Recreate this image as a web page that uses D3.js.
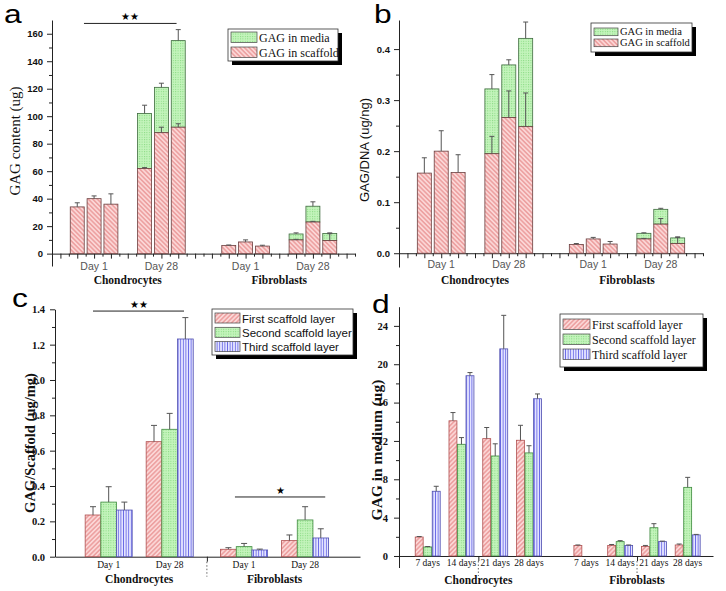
<!DOCTYPE html>
<html>
<head>
<meta charset="utf-8">
<script src="https://cdn.jsdelivr.net/npm/d3@7"></script>
<style>
  body { margin: 0; background: #fff; }
</style>
</head>
<body>
<script>
// ---- panel a : GAG content (ug)
var aPos = [1, 2, 3, 5, 6, 7, 10, 11, 12, 14, 15, 16];
var aScaffold = [34, 40, 36, 62, 88, 92, 6, 8.5, 5.5, 10, 23, 9.5];
var aScaffoldErr = [3, 2, 7.5, 0.6, 4, 2.5, 0.3, 1.5, 0.6, 0.4, 0.5, 5];
var aTotal = [null, null, null, 102, 121, 155, null, null, null, 14.3, 34.5, 14.6];
var aTotalErr = [0, 0, 0, 6, 3, 8, 0, 0, 0, 0.8, 3.2, 0.5];

// ---- panel b : GAG/DNA (ug/ng)
var bScaffold = [0.157, 0.200, 0.158, 0.195, 0.266, 0.248, 0.017, 0.028, 0.018, 0.028, 0.057, 0.019];
var bScaffoldErr = [0.030, 0.040, 0.035, 0.034, 0.052, 0.066, 0.002, 0.003, 0.005, 0.001, 0.011, 0.012];
var bTotal = [null, null, null, 0.322, 0.369, 0.421, null, null, null, 0.039, 0.086, 0.030];
var bTotalErr = [0, 0, 0, 0.028, 0.010, 0.032, 0, 0, 0, 0.001, 0.002, 0.002];

// shared labels for a / b
var dayPosAB = [2, 6, 11, 15];
var dayLabels = ["Day 1", "Day 28", "Day 1", "Day 28"];
var cellLabels = ["Chondrocytes", "Fibroblasts"];
var cellPosAB = [4, 13];
var stackLegend = ["GAG in media", "GAG in scaffold"];

// ---- panel c : GAG/Scaffold (ug/mg)
var cPos = [0.88, 1.88, 3.1, 4.1];
var cFirst = [0.236, 0.651, 0.042, 0.091];
var cFirstErr = [0.047, 0.092, 0.009, 0.032];
var cSecond = [0.309, 0.721, 0.057, 0.208];
var cSecondErr = [0.087, 0.090, 0.018, 0.075];
var cThird = [0.264, 1.232, 0.038, 0.106];
var cThirdErr = [0.045, 0.121, 0.005, 0.052];
var cCellPos = [1.38, 3.6];

// ---- panel d : GAG in medium (ug)
var dDays = ["7 days", "14 days", "21 days", "28 days", "7 days", "14 days", "21 days", "28 days"];
var dPos = [1, 2, 3, 4, 5.7, 6.7, 7.7, 8.7];
var dFirst = [1.98, 14.1, 12.24, 12.07, 1.1, 1.1, 1.0, 1.15];
var dFirstErr = [0.05, 0.86, 1.16, 1.56, 0.05, 0.1, 0.1, 0.1];
var dSecond = [0.94, 11.65, 10.43, 10.75, 0, 1.5, 2.95, 7.16];
var dSecondErr = [0.05, 0.7, 1.27, 0.75, 0, 0.1, 0.42, 1.04];
var dThird = [6.75, 18.8, 21.6, 16.4, 0, 1.1, 1.5, 2.2];
var dThirdErr = [0.52, 0.33, 3.5, 0.5, 0, 0.05, 0.05, 0.05];
var dCellPos = [2.5, 7.2];
var layerLegend = ["First scaffold layer", "Second scaffold layer", "Third scaffold layer"];

var serif = "'Liberation Serif', 'Times New Roman', serif";
var sans = "'Liberation Sans', Arial, sans-serif";

var svg = d3.select("body").append("svg")
    .attr("width", 726)
    .attr("height", 591);

// fill patterns
var defs = svg.append("defs");
function linePattern(id, bg, fg, angle, gap) {
    var p = defs.append("pattern")
        .attr("id", id)
        .attr("patternUnits", "userSpaceOnUse")
        .attr("width", gap).attr("height", gap)
        .attr("patternTransform", "rotate(" + angle + ")");
    p.append("rect").attr("width", gap).attr("height", gap).attr("fill", bg);
    p.append("line").attr("x1", gap / 2).attr("x2", gap / 2).attr("y1", 0).attr("y2", gap)
        .attr("stroke", fg).attr("stroke-width", 0.9);
}
linePattern("redBack", "#fbd6d6", "#e27a7a", -45, 3.2);
linePattern("redFwd", "#fbd6d6", "#e27a7a", 45, 3.2);
linePattern("blueV", "#e4e4ff", "#6b6be6", 0, 2.6);
var gp = defs.append("pattern").attr("id", "greenDot")
    .attr("patternUnits", "userSpaceOnUse").attr("width", 2.4).attr("height", 2.4);
gp.append("rect").attr("width", 2.4).attr("height", 2.4).attr("fill", "#c4f4bc");
gp.append("rect").attr("width", 1).attr("height", 1).attr("fill", "#86d880");

function errBar(g, x, y0, y1, cap) {
    g.append("line").attr("x1", x).attr("x2", x).attr("y1", y0).attr("y2", y1)
        .attr("stroke", "#555").attr("stroke-width", 1);
    g.append("line").attr("x1", x - cap / 2).attr("x2", x + cap / 2).attr("y1", y1).attr("y2", y1)
        .attr("stroke", "#555").attr("stroke-width", 1);
}

function yAxis(g, y, x0, major, minor, fmt, font, size, pad) {
    var ax = g.append("g").attr("transform", "translate(" + x0 + ",0)")
        .call(d3.axisLeft(y).tickValues(major).tickSize(5).tickSizeOuter(0).tickPadding(pad).tickFormat(fmt));
    ax.selectAll("text").style("font-family", font).style("font-size", size + "px")
        .style("font-weight", "bold").attr("fill", "#111");
    ax.selectAll("path,line").attr("stroke", "#222");
    if (minor) {
        var mn = g.append("g").attr("transform", "translate(" + x0 + ",0)")
            .call(d3.axisLeft(y).tickValues(minor).tickSize(3).tickFormat(""));
        mn.select(".domain").remove();
        mn.selectAll("line").attr("stroke", "#222");
    }
}

// legend box with a black drop shadow
function legend(g, o) {
    g.append("rect").attr("x", o.x + 4).attr("y", o.y + 4).attr("width", o.w).attr("height", o.h).attr("fill", "#000");
    g.append("rect").attr("x", o.x).attr("y", o.y).attr("width", o.w).attr("height", o.h)
        .attr("fill", "#fff").attr("stroke", "#333").attr("stroke-width", 0.8);
    o.labels.forEach(function (t, i) {
        var ry = o.y + o.pad + i * o.rowH;
        var sh = o.rowH * 0.7;
        g.append("rect").attr("x", o.x + 3).attr("y", ry).attr("width", o.sw).attr("height", sh)
            .attr("fill", "url(#" + o.fills[i] + ")").attr("stroke", "#444").attr("stroke-width", 0.7);
        g.append("text").attr("x", o.x + o.sw + 5).attr("y", ry + sh - 0.5)
            .style("font-family", o.font).style("font-size", o.size + "px").attr("fill", "#111").text(t);
    });
}

function panelLetter(x, y, t) {
    svg.append("text").attr("transform", "translate(" + x + "," + y + ") scale(1.22,1)")
        .style("font-family", sans).style("font-size", "26px").attr("fill", "#000").text(t);
}

function sigLine(g, x, y, x1, x2, v, stars) {
    g.append("line").attr("x1", x(x1)).attr("x2", x(x2)).attr("y1", y(v)).attr("y2", y(v))
        .attr("stroke", "#222").attr("stroke-width", 1);
    g.append("text").attr("x", (x(x1) + x(x2)) / 2).attr("y", y(v) - 3)
        .attr("text-anchor", "middle").style("font-size", "10px").style("font-family", sans)
        .attr("fill", "#000").text(stars);
}

// ---------- stacked panels (a, b)
function stackedPanel(opts) {
    var g = svg.append("g");
    var x = d3.scaleLinear().domain([-0.5, 17.5]).range(opts.xr);
    var y = d3.scaleLinear().domain(opts.yd).range(opts.yr);
    var bw = x(0.83) - x(0);

    yAxis(g, y, opts.xr[0], opts.major, opts.minor, opts.fmt, sans, 9.5, 4);

    var xa = g.append("g").attr("transform", "translate(0," + y(0) + ")")
        .call(d3.axisBottom(x).tickValues(d3.range(0, 18, 1)).tickSize(5).tickSizeOuter(0).tickFormat(""));
    xa.selectAll("path,line").attr("stroke", "#222");
    var xm = g.append("g").attr("transform", "translate(0," + y(0) + ")")
        .call(d3.axisBottom(x).tickValues(d3.range(-0.5, 18, 1)).tickSize(3).tickFormat(""));
    xm.select(".domain").remove();
    xm.selectAll("line").attr("stroke", "#222");

    aPos.forEach(function (p, i) {
        var cx = x(p);
        if (opts.total[i] != null) {
            g.append("rect").attr("x", cx - bw / 2).attr("width", bw)
                .attr("y", y(opts.total[i])).attr("height", y(opts.scaffold[i]) - y(opts.total[i]))
                .attr("fill", "url(#greenDot)").attr("stroke", "#3f6b3f").attr("stroke-width", 0.8);
        }
        g.append("rect").attr("x", cx - bw / 2).attr("width", bw)
            .attr("y", y(opts.scaffold[i])).attr("height", y(0) - y(opts.scaffold[i]))
            .attr("fill", "url(#redBack)").attr("stroke", "#6b3f3f").attr("stroke-width", 0.8);
    });
    aPos.forEach(function (p, i) {
        var cx = x(p);
        if (opts.total[i] != null) {
            errBar(g, cx, y(opts.total[i]), y(opts.total[i] + opts.totalErr[i]), 5);
        }
        errBar(g, cx, y(opts.scaffold[i]), y(opts.scaffold[i] + opts.scaffoldErr[i]), 5);
    });

    dayPosAB.forEach(function (p, i) {
        g.append("text").attr("x", x(p)).attr("y", opts.dayY).attr("text-anchor", "middle")
            .style("font-family", sans).style("font-size", "10.5px").attr("fill", "#555").text(dayLabels[i]);
    });
    cellPosAB.forEach(function (p, i) {
        g.append("text").attr("x", x(p)).attr("y", opts.cellY).attr("text-anchor", "middle")
            .style("font-family", serif).style("font-size", "11.5px").style("font-weight", "bold")
            .attr("fill", "#111").text(cellLabels[i]);
    });

    g.append("text").attr("transform", "translate(" + opts.labX + "," + opts.labY + ") rotate(-90)")
        .attr("text-anchor", "middle").style("font-family", opts.labFont)
        .style("font-size", opts.labSize + "px").attr("fill", "#111").text(opts.label);

    return { g: g, x: x, y: y };
}

var pa = stackedPanel({
    xr: [52, 355], yd: [-9, 170], yr: [266, 20],
    major: d3.range(0, 161, 20), minor: d3.range(10, 160, 20), fmt: d3.format("d"),
    scaffold: aScaffold, scaffoldErr: aScaffoldErr, total: aTotal, totalErr: aTotalErr,
    dayY: 270, cellY: 284, labX: 20, labY: 141, label: "GAG content (ug)", labFont: serif, labSize: 15
});
sigLine(pa.g, pa.x, pa.y, 1.4, 6.9, 167.5, "\u2605\u2605");
legend(pa.g, { x: 228, y: 29, w: 110, h: 32, labels: stackLegend, fills: ["greenDot", "redBack"],
    font: serif, size: 12, rowH: 15, sw: 26, pad: 3 });
panelLetter(4, 23, "a");

var pb = stackedPanel({
    xr: [399, 703], yd: [-0.027, 0.457], yr: [267, 20],
    major: [0, 0.1, 0.2, 0.3, 0.4], minor: [0.05, 0.15, 0.25, 0.35], fmt: d3.format(".1f"),
    scaffold: bScaffold, scaffoldErr: bScaffoldErr, total: bTotal, totalErr: bTotalErr,
    dayY: 268, cellY: 284, labX: 369, labY: 150, label: "GAG/DNA (ug/ng)", labFont: sans, labSize: 13
});
legend(pb.g, { x: 591, y: 23, w: 101, h: 29, labels: stackLegend, fills: ["greenDot", "redBack"],
    font: serif, size: 10.5, rowH: 11, sw: 24, pad: 5 });
panelLetter(374, 23, "b");

// ---------- grouped panels (c, d)
function groupedPanel(opts) {
    var g = svg.append("g");
    var x = d3.scaleLinear().domain(opts.xd).range(opts.xr);
    var y = d3.scaleLinear().domain(opts.yd).range(opts.yr);
    var bw = x(opts.bw) - x(0);
    var series = [
        { v: opts.s1, e: opts.e1, fill: opts.redFill, stroke: "#b05050" },
        { v: opts.s2, e: opts.e2, fill: "greenDot", stroke: "#3f8a3f" },
        { v: opts.s3, e: opts.e3, fill: "blueV", stroke: "#5050b0" }
    ];

    yAxis(g, y, opts.xr[0], opts.major, opts.minor, opts.fmt, serif, 10.5, opts.pad);

    var xa = g.append("g").attr("transform", "translate(0," + y(0) + ")")
        .call(d3.axisBottom(x).tickValues(opts.sep).tickSize(5).tickSizeOuter(0).tickFormat(""));
    xa.selectAll("path,line").attr("stroke", "#222");
    opts.sep.forEach(function (s) {
        g.append("line").attr("x1", x(s)).attr("x2", x(s)).attr("y1", y(0) + 5).attr("y2", y(0) + 20)
            .attr("stroke", "#666").attr("stroke-dasharray", "1.5,2");
    });

    series.forEach(function (s, k) {
        opts.pos.forEach(function (p, i) {
            if (!s.v[i]) return;
            var cx = x(p + (k - 1) * opts.step);
            g.append("rect").attr("x", cx - bw / 2).attr("width", bw)
                .attr("y", y(s.v[i])).attr("height", y(0) - y(s.v[i]))
                .attr("fill", "url(#" + s.fill + ")").attr("stroke", s.stroke).attr("stroke-width", 0.8);
        });
    });
    series.forEach(function (s, k) {
        opts.pos.forEach(function (p, i) {
            if (!s.v[i]) return;
            var cx = x(p + (k - 1) * opts.step);
            errBar(g, cx, y(s.v[i]), y(s.v[i] + s.e[i]), opts.cap);
        });
    });

    opts.pos.forEach(function (p, i) {
        g.append("text").attr("x", x(p)).attr("y", opts.dayY).attr("text-anchor", "middle")
            .style("font-family", serif).style("font-size", "9.5px").attr("fill", "#111").text(opts.days[i]);
    });
    opts.cellPos.forEach(function (p, i) {
        g.append("text").attr("x", x(p)).attr("y", opts.cellY).attr("text-anchor", "middle")
            .style("font-family", serif).style("font-size", "11.5px").style("font-weight", "bold")
            .attr("fill", "#111").text(cellLabels[i]);
    });
    g.append("text").attr("transform", "translate(" + opts.labX + "," + opts.labY + ") rotate(-90)")
        .attr("text-anchor", "middle").style("font-family", serif).style("font-weight", "bold")
        .style("font-size", opts.labSize + "px").attr("fill", "#111").text(opts.label);
    return { g: g, x: x, y: y };
}

var pc = groupedPanel({
    xd: [0, 5], xr: [55, 360], yd: [0, 1.4], yr: [556.7, 309.3],
    major: d3.range(0, 1.41, 0.2), minor: d3.range(0.1, 1.4, 0.2), fmt: d3.format(".1f"), pad: 5,
    pos: cPos, step: 0.257, bw: 0.257, cap: 6, sep: [2.49],
    s1: cFirst, e1: cFirstErr, s2: cSecond, e2: cSecondErr, s3: cThird, e3: cThirdErr, redFill: "redFwd",
    days: dayLabels, cellPos: cCellPos, dayY: 568, cellY: 583,
    labX: 35, labY: 443, labSize: 14.5, label: "GAG/Scaffold  (ug/mg)"
});
sigLine(pc.g, pc.x, pc.y, 0.623, 2.115, 1.39, "\u2605\u2605");
sigLine(pc.g, pc.x, pc.y, 2.95, 4.43, 0.338, "\u2605");
legend(pc.g, { x: 212, y: 309, w: 141, h: 46, labels: layerLegend, fills: ["redFwd", "greenDot", "blueV"],
    font: sans, size: 11.5, rowH: 14.3, sw: 25, pad: 4 });
panelLetter(12, 307, "c");

var pd = groupedPanel({
    xd: [0.15, 9.45], xr: [399, 713], yd: [-1.2, 26], yr: [567.5, 306.7],
    major: d3.range(0, 25, 4), minor: d3.range(2, 25, 4), fmt: d3.format("d"), pad: 6,
    pos: dPos, step: 0.252, bw: 0.235, cap: 5, sep: [2.5, 7.2],
    s1: dFirst, e1: dFirstErr, s2: dSecond, e2: dSecondErr, s3: dThird, e3: dThirdErr, redFill: "redFwd",
    days: dDays, cellPos: dCellPos, dayY: 566, cellY: 584,
    labX: 382, labY: 450, labSize: 15.5, label: "GAG in medium (ug)"
});
legend(pd.g, { x: 560, y: 314, w: 143, h: 53, labels: layerLegend, fills: ["redFwd", "greenDot", "blueV"],
    font: serif, size: 12, rowH: 15, sw: 27, pad: 5 });
panelLetter(372, 313, "d");
</script>
</body>
</html>
